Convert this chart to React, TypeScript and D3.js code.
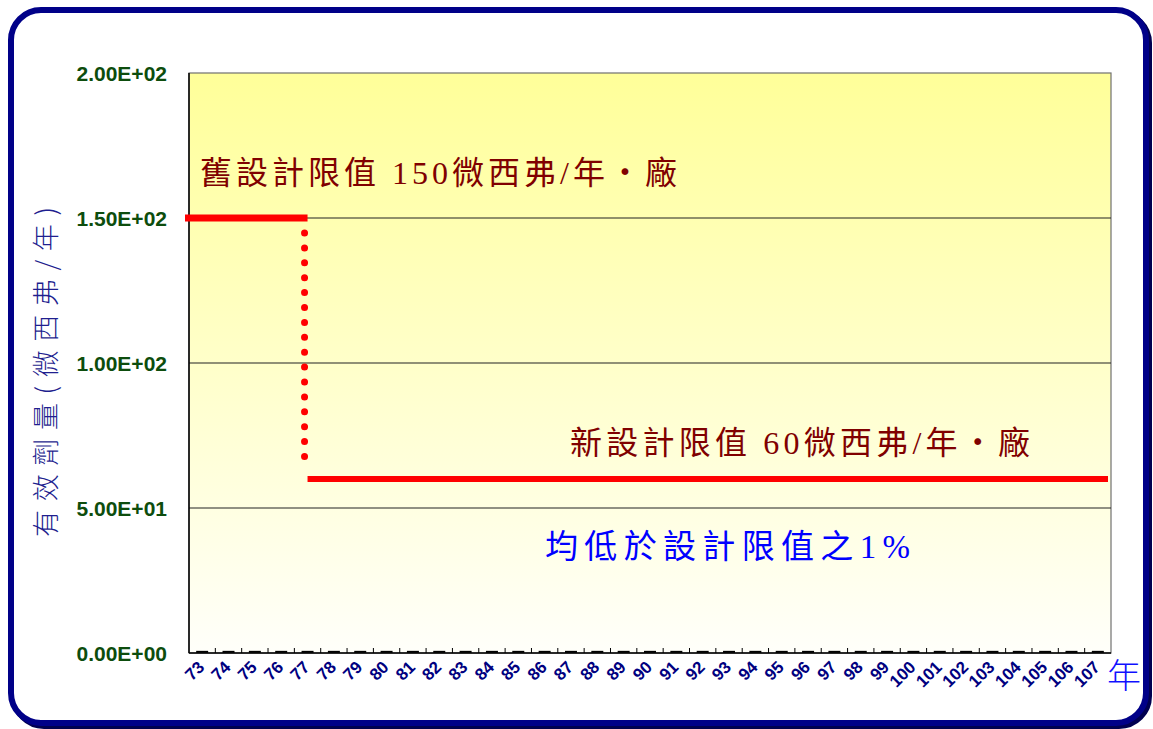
import React from "react";
import * as d3 from "d3";

// ---- data ----
const years: string[] = [
  "73","74","75","76","77","78","79","80","81","82","83","84","85","86","87","88","89","90",
  "91","92","93","94","95","96","97","98","99","100","101","102","103","104","105","106","107",
];
const yTicks: number[] = [0, 50, 100, 150, 200];
const oldLimit = { from: "73", to: "77", value: 150 };
const newLimit = { from: "77", to: "107", value: 60 };
// measured effective dose per year (all well below 1% of limit)
const measured: number[] = [
  0.4,0.4,0.4,0.4,0.4,0.4,0.4,0.4,0.4,0.4,0.4,0.4,0.4,0.4,0.4,0.4,0.4,0.4,
  0.4,0.4,0.4,0.4,0.4,0.4,0.4,0.4,0.4,0.4,0.4,0.4,0.4,0.4,0.4,0.4,0.4,
];
const yTitle = "有效劑量(微西弗/年)";
const xUnit = "年";
const oldLabel = "舊設計限值 150微西弗/年・廠";
const newLabel = "新設計限值 60微西弗/年・廠";
const noteLabel = "均低於設計限值之1%";

const W = 1153, H = 729;
const PL = 189, PR = 1111, PT = 73, PB = 653;

const fmt = (v: number) => {
  if (v === 0) return "0.00E+00";
  const e = Math.floor(Math.log10(v));
  const m = v / Math.pow(10, e);
  return `${m.toFixed(2)}E${e >= 0 ? "+" : "-"}${String(Math.abs(e)).padStart(2, "0")}`;
};

export default function App() {
  const x = d3.scaleBand<string>().domain(years).range([PL, PR]).padding(0);
  const y = d3.scaleLinear().domain([0, 200]).range([PB, PT]);
  const cx = (k: string) => (x(k) as number) + x.bandwidth() / 2;
  const serifCJK = "'Liberation Serif', 'Noto Sans CJK TC', serif";

  const oldX1 = PL - 4, oldX2 = cx(oldLimit.to);
  const newX1 = cx(newLimit.from), newX2 = PR - 3;

  return (
    <div style={{ position: "absolute", left: 0, top: 0 }}>
      <svg width={W} height={H} style={{ display: "block" }}>
        <defs>
          <linearGradient id="bg" x1="0" y1="0" x2="0" y2="1">
            <stop offset="0%" stopColor="#FFFF99" />
            <stop offset="100%" stopColor="#FFFFFA" />
          </linearGradient>
        </defs>
        <rect x={0} y={0} width={W} height={H} fill="#fff" />
        {/* frame with shadow */}
        <rect x={14} y={13} width={1135} height={713} rx={30} fill="none" stroke="#000050" strokeWidth={6} />
        <rect x={11} y={10} width={1135} height={713} rx={30} fill="#fff" stroke="#000088" strokeWidth={6} />

        {/* plot background */}
        <rect x={PL} y={PT} width={PR - PL} height={PB - PT} fill="url(#bg)" stroke="#707070" strokeWidth={1.2} />
        {/* gridlines */}
        {yTicks.filter((t) => t > 0 && t < 200).map((t) => (
          <line key={t} x1={PL} x2={PR} y1={y(t)} y2={y(t)} stroke="#222" strokeWidth={1.2} />
        ))}
        {/* axes */}
        <line x1={PL} x2={PL} y1={PT} y2={PB} stroke="#000" strokeWidth={1.5} />
        <line x1={PL} x2={PR} y1={PB} y2={PB} stroke="#000" strokeWidth={1.5} />
        {/* x ticks at category boundaries */}
        {years.slice(1).map((k) => (
          <line key={k} x1={x(k) as number} x2={x(k) as number} y1={PB} y2={PB - 5} stroke="#000" strokeWidth={1} />
        ))}

        {/* y tick labels */}
        {yTicks.map((t) => (
          <text key={t} x={167} y={y(t)} dy="0.36em" textAnchor="end"
            fontFamily="'Liberation Sans', Arial, sans-serif" fontWeight="bold" fontSize={21}
            fill="#0d4d0d">{fmt(t)}</text>
        ))}
        {/* x tick labels */}
        {years.map((k) => (
          <text key={k} transform={`translate(${cx(k) - 1},${664}) rotate(-45)`} dy="0.35em" textAnchor="end"
            fontFamily="'Liberation Sans', Arial, sans-serif" fontWeight="bold" fontSize={17}
            fill="#000080">{k}</text>
        ))}
        {/* x unit */}
        <text x={1107} y={688} fontFamily="'Noto Sans CJK TC', sans-serif" fontWeight={300} fontSize={34}
          fill="#1010ff">{xUnit}</text>
        {/* y title */}
        <text transform={`translate(${56},${372}) rotate(-90)`} textAnchor="middle"
          fontFamily="'Noto Sans CJK TC', sans-serif" fontWeight={300} fontSize={27}
          textLength={330} lengthAdjust="spacing" fill="#1f1f8f">{yTitle}</text>

        {/* measured near-zero series (dash markers) */}
        {measured.map((v, i) => (
          <line key={i} x1={cx(years[i]) - 6} x2={cx(years[i]) + 6} y1={y(v)} y2={y(v)} stroke="#000" strokeWidth={2} />
        ))}

        {/* limits */}
        <line x1={oldX1} x2={oldX2} y1={y(oldLimit.value)} y2={y(oldLimit.value)} stroke="#FF0000" strokeWidth={7} />
        <line x1={cx(oldLimit.to) - 3} x2={cx(oldLimit.to) - 3} y1={y(oldLimit.value) + 15} y2={y(newLimit.value) - 9}
          stroke="#FF0000" strokeWidth={7} strokeLinecap="round" strokeDasharray="0 14.9" />
        <line x1={newX1} x2={newX2} y1={y(newLimit.value)} y2={y(newLimit.value)} stroke="#FF0000" strokeWidth={6} />

        {/* annotations */}
        <text x={200} y={184} fontFamily={serifCJK} fontSize={32} textLength={477} lengthAdjust="spacing"
          fill="#800000">{oldLabel}</text>
        <text x={570} y={454} fontFamily={serifCJK} fontSize={32} textLength={460} lengthAdjust="spacing"
          fill="#800000">{newLabel}</text>
        <text x={545} y={558} fontFamily={serifCJK} fontSize={33} textLength={365} lengthAdjust="spacing"
          fill="#0000ff">{noteLabel}</text>
      </svg>
    </div>
  );
}
